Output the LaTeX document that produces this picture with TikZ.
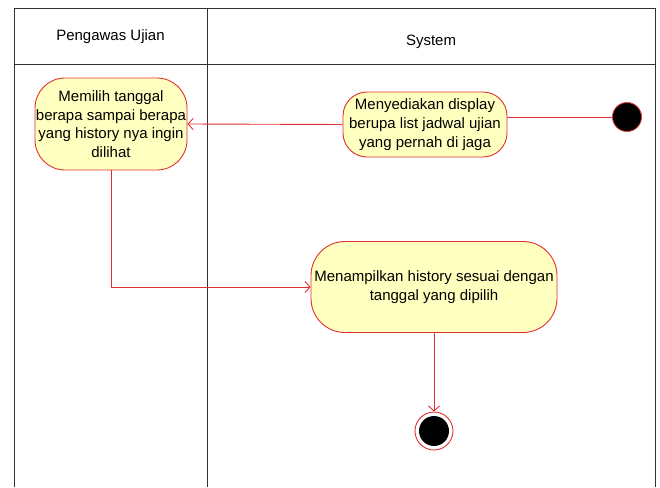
\documentclass[tikz,border=0pt]{standalone}
\usepackage{fontspec}
\setmainfont{Liberation Sans}
\usetikzlibrary{arrows.meta}
\definecolor{actfill}{HTML}{FFFFC0}
\definecolor{actline}{HTML}{E03030}
\begin{document}
\begin{tikzpicture}[x=1pt,y=-1pt,
  act/.style={draw=actline,fill=actfill,line width=0.9pt,align=center,inner sep=0pt,
    font=\fontsize{15}{18.7}\selectfont},
  flow/.style={draw=actline,line width=0.9pt},
  tip/.style={-{Straight Barb[length=5pt,width=11pt]}},
  lane/.style={draw=black!80,line width=0.9pt},
  head/.style={font=\fontsize{15}{18}\selectfont}]
\useasboundingbox (0,0) rectangle (660,487);
% swimlanes
\draw[lane] (14,487) -- (14,8) -- (655,8) -- (655,487);
\draw[lane] (14,64) -- (655,64);
\draw[lane] (207,8) -- (207,487);
\node[head] (h1) at (110.5,37) {Pengawas Ujian};
\node[head] (h2) at (431,42) {System};
% nodes
\node[act,minimum width=152pt,minimum height=92pt,rounded corners=30pt] (n1) at (111,124)
  {Memilih tanggal\\berapa sampai berapa\\yang history nya ingin\\dilihat};
\node[act,minimum width=164pt,minimum height=65pt,rounded corners=24pt] (n2) at (425,124.5)
  {Menyediakan display\\berupa list jadwal ujian\\yang pernah di jaga};
\node[act,minimum width=246pt,minimum height=91pt,rounded corners=34pt] (n3) at (434,287)
  {Menampilkan history sesuai dengan\\tanggal yang dipilih};
\node[circle,fill=black,draw=actline,line width=0.8pt,minimum size=29pt,inner sep=0pt] (st) at (627,117) {};
\node[circle,draw=actline,line width=0.9pt,minimum size=38pt,inner sep=0pt] (en) at (434,431) {};
\node[circle,fill=black,minimum size=30pt,inner sep=0pt] (enin) at (434,431) {};
% connectors
\draw[flow] (st.west) -- (st.west -| n2.east);
\draw[flow,tip] (n2.west) -- (n1.east);
\draw[flow,tip] (n1.south) |- (n3.west);
\draw[flow,tip] (n3.south) -- (en.north);
\end{tikzpicture}
\end{document}
